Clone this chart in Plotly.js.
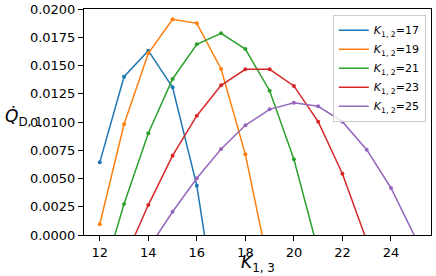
<!DOCTYPE html>
<html>
<head>
<meta charset="utf-8">
<script src="https://cdn.plot.ly/plotly-3.0.1.min.js"></script>
<style>html,body{margin:0;padding:0;background:#fff;}#chart{width:436px;height:276px;}</style>
</head>
<body>
<div id="chart"></div>
<script>
// K_{1,3} values per series
var x17 = [12, 13, 14, 15, 16, 17];
var y17 = [0.00643, 0.01401, 0.01631, 0.01307, 0.00436, -0.0095];
var x19 = [12, 13, 14, 15, 16, 17, 18, 19];
var y19 = [0.00095, 0.0098, 0.01608, 0.01909, 0.01873, 0.01469, 0.00714, -0.0032];
var x21 = [12, 13, 14, 15, 16, 17, 18, 19, 20, 21];
var y21 = [-0.0045, 0.00274, 0.0090, 0.01381, 0.01688, 0.01785, 0.01646, 0.01277, 0.0067, -0.0014];
var x23 = [13, 14, 15, 16, 17, 18, 19, 20, 21, 22, 23];
var y23 = [-0.0022, 0.00265, 0.00702, 0.01056, 0.01325, 0.01466, 0.01466, 0.01319, 0.01003, 0.00542, -0.0005];
var x25 = [14, 15, 16, 17, 18, 19, 20, 21, 22, 23, 24, 25];
var y25 = [-0.0012, 0.00206, 0.00502, 0.00761, 0.00971, 0.01112, 0.01171, 0.01139, 0.01003, 0.00755, 0.00416, -0.0002];
var seriesNames = ['<i>K</i><sub>1, 2</sub>=17', '<i>K</i><sub>1, 2</sub>=19', '<i>K</i><sub>1, 2</sub>=21', '<i>K</i><sub>1, 2</sub>=23', '<i>K</i><sub>1, 2</sub>=25'];
var colors = ['#1f77b4', '#ff7f0e', '#2ca02c', '#d62728', '#9467bd'];
var xTicks = [12, 14, 16, 18, 20, 22, 24];
var yTicks = [0, 0.0025, 0.005, 0.0075, 0.01, 0.0125, 0.015, 0.0175, 0.02];

var xs = [x17, x19, x21, x23, x25];
var ys = [y17, y19, y21, y23, y25];
var traces = [];
for (var i = 0; i < xs.length; i++) {
  traces.push({x: xs[i], y: ys[i], type: 'scatter', mode: 'lines+markers',
    line: {color: colors[i], width: 1.5}, marker: {color: colors[i], size: 4},
    showlegend: false, cliponaxis: true, hoverinfo: 'skip'});
}
for (var j = 0; j < xs.length; j++) {
  traces.push({x: [null], y: [null], type: 'scatter', mode: 'lines', name: seriesNames[j],
    line: {color: colors[j], width: 1.5}, showlegend: true});
}
var fontFam = 'DejaVu Sans, sans-serif';
var layout = {
  width: 436, height: 276,
  margin: {l: 84, r: 5, t: 9, b: 41},
  paper_bgcolor: '#fff', plot_bgcolor: '#fff',
  font: {family: fontFam, size: 13, color: '#000'},
  showlegend: true,
  legend: {x: 0.985, y: 0.975, xanchor: 'right', yanchor: 'top', bgcolor: 'rgba(255,255,255,0.8)',
    bordercolor: '#cccccc', borderwidth: 1, font: {family: fontFam, size: 11, color: '#000'},
    tracegroupgap: 0, itemwidth: 30},
  xaxis: {range: [11.35, 25.65], tickvals: xTicks, ticks: 'outside', ticklen: 5, tickcolor: '#000',
    showline: true, linecolor: '#000', linewidth: 1, mirror: true, showgrid: false, zeroline: false,
    tickfont: {family: fontFam, size: 13, color: '#000'}},
  yaxis: {range: [0, 0.02], tickvals: yTicks, tickformat: '.4f', ticks: 'outside', ticklen: 5, tickcolor: '#000',
    showline: true, linecolor: '#000', linewidth: 1, mirror: true, showgrid: false, zeroline: false,
    tickfont: {family: fontFam, size: 13, color: '#000'}},
  annotations: [
    {text: '<i>K</i><sub>1, 3</sub>', xref: 'paper', yref: 'paper', x: 0.5, y: -0.128, xanchor: 'center', yanchor: 'middle',
      showarrow: false, font: {family: fontFam, size: 17, color: '#000'}},
    {text: '<i>Q\u0307</i><sub>D, 1</sub>', xref: 'paper', yref: 'paper', x: -0.234, y: 0.52, xanchor: 'left', yanchor: 'middle',
      showarrow: false, font: {family: fontFam, size: 17, color: '#000'}}
  ]
};
Plotly.newPlot('chart', traces, layout, {staticPlot: true, displayModeBar: false});
</script>
</body>
</html>
